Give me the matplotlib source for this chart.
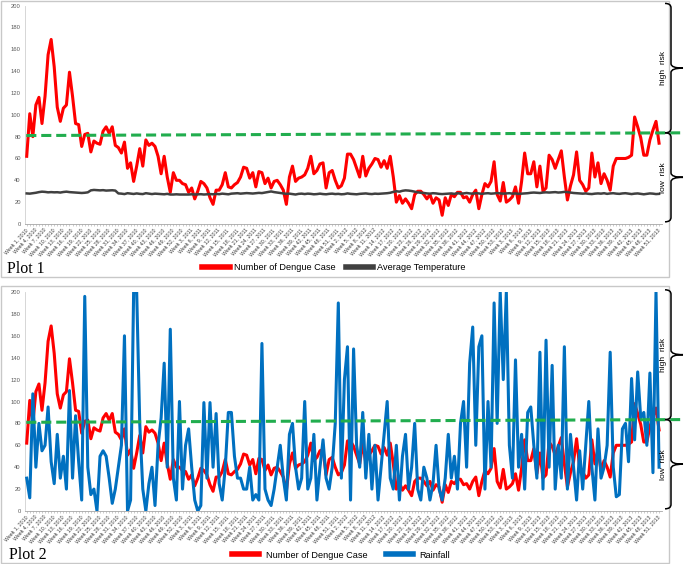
import numpy as np
import matplotlib.pyplot as plt
from matplotlib.path import Path
from matplotlib.patches import PathPatch, Rectangle
import matplotlib.transforms as mtransforms

# weekly data, week 1 2010 .. week 51 2013
dengue_cases = [
    62, 101, 80, 109, 116, 92, 117, 155, 169, 144,
    107, 94, 106, 109, 139, 117, 92, 91, 71, 82,
    83, 66, 76, 74, 73, 85, 89, 83, 89, 72,
    70, 65, 75, 51, 56, 39, 53, 69, 53, 77,
    72, 74, 71, 62, 46, 62, 43, 29, 47, 40,
    40, 37, 36, 29, 33, 23, 30, 39, 37, 33,
    24, 18, 31, 31, 36, 47, 34, 33,
    36, 38, 43, 52, 51, 42, 47, 34, 48, 47,
    37, 42, 33, 39, 40, 36, 31, 18, 43, 53,
    39, 42, 43, 45, 51, 62, 46, 49, 55, 56,
    33, 47, 49, 40, 33, 35, 42, 64, 64, 59,
    51, 43, 62, 44, 51, 55, 60, 59, 52, 58,
    51, 62, 43, 20, 26, 19, 23, 19, 14, 27,
    30, 30, 27, 23, 27, 19, 24, 22, 8,
    24, 17, 27, 25, 29, 29, 24, 25, 20, 27,
    31, 14, 27, 37, 34, 39, 57, 27, 21, 38,
    20, 22, 25, 34, 19, 39, 65, 46, 46, 57,
    34, 53, 30, 33, 63, 59, 51, 59, 67, 43,
    22, 35, 45, 66, 40, 36, 30, 33, 65, 43,
    56, 37, 46, 40, 31, 53, 60, 60, 60, 60,
    61, 63, 98, 89, 79, 63, 63, 77, 86, 94, 74,
]

avg_temperature = [
    28.0, 27.8, 28.2, 28.6, 29.2, 29.6, 29.4, 29.0, 29.2, 29.0,
    29.1, 28.8, 29.3, 29.6, 29.2, 29.0, 28.8, 28.6, 28.4, 28.6, 29.0,
    30.8, 31.2, 31.0, 30.8, 31.0, 30.6, 30.8, 30.9, 30.6,
    28.0, 27.8, 27.4, 28.2, 27.8, 27.5, 28.0, 27.6, 27.4, 28.2,
    27.8, 27.4, 27.8, 27.6, 27.4, 27.2, 27.6, 27.0, 27.0, 27.2,
    27.0, 27.0, 27.1, 27.0, 27.2, 27.0, 27.1, 27.3, 27.0, 27.2,
    27.4, 27.2, 27.6, 27.3, 27.8, 27.5, 27.2, 27.8,
    28.0, 28.2, 27.8, 28.0, 28.3, 28.1, 27.9, 28.2, 28.5, 28.3, 28.8, 29.4,
    29.8, 29.2, 28.8, 28.4, 28.0, 27.6, 27.8, 27.4, 27.0, 27.6,
    27.8, 27.4, 27.8, 27.6, 27.2, 27.4, 27.8, 27.4, 27.2, 27.6,
    27.8, 27.4, 27.6, 27.2, 27.4, 28.0, 27.6, 27.4, 27.2, 27.6,
    27.8, 28.0, 27.6, 27.4, 27.8, 27.6, 27.8, 28.0, 28.2, 28.6,
    29.4, 30.0, 29.6, 30.4, 30.8, 30.6, 30.2, 29.6, 29.0, 28.6,
    28.4, 28.0, 27.8, 28.2, 28.0, 27.6, 27.4,
    27.6, 27.8, 28.0, 27.6, 28.2, 27.8, 28.0, 28.4, 28.0, 27.8,
    28.2, 28.0, 27.6, 28.0, 28.2, 27.8, 28.0, 28.4, 28.0, 27.8,
    28.0, 28.2, 27.8, 28.0, 27.6, 27.8, 28.0, 28.2, 28.6, 28.8,
    28.6, 28.4, 28.8, 29.0, 28.8, 29.0, 29.2, 28.8, 29.0, 29.4,
    29.2, 28.8, 28.4, 28.2, 28.0, 27.8, 28.0, 27.6, 27.4, 27.8,
    28.0, 27.8, 28.2, 27.6, 28.0, 28.2, 27.8, 27.6, 28.0, 28.2,
    27.8, 27.4, 27.8, 28.0, 27.6, 27.2, 27.6, 28.0, 27.8, 27.4, 27.6,
]

rainfall = [
    30, 12, 107, 40, 80, 55, 60, 95, 45, 25,
    70, 30, 50, 20, 110, 30, 87, 45, 10, 196,
    40, 15, 20, 0, 50, 55, 50, 30, 7, 20,
    40, 60, 160, 0, 10, 200, 200, 80, 20, 0,
    25, 40, 5, 60, 85, 135, 40, 166, 30, 10,
    100, 20, 60, 75, 40, 10, 0, 5, 99, 30,
    99, 40, 89, 25, 10, 40, 90, 90, 50, 30,
    30, 20, 20, 40, 10, 15, 10, 153, 20, 10,
    5, 20, 40, 60, 30, 10, 70, 80, 40, 20,
    30, 100, 20, 30, 70, 10, 40, 65, 30, 20,
    40, 80, 190, 30, 120, 150, 10, 148, 60, 40,
    90, 30, 70, 20, 60, 10, 40, 70, 100, 30,
    20, 60, 10, 50, 70, 20, 40, 80, 20, 10,
    40, 30, 10, 25, 60, 20, 10, 30, 70, 30,
    50, 20, 80, 100, 40, 135, 168, 60, 150, 160,
    20, 100, 40, 190, 80, 200, 120, 200, 60, 30,
    138, 40, 70, 20, 90, 95, 60, 30, 145, 20,
    156, 40, 133, 20, 60, 30, 150, 20, 70, 40,
    10, 55, 20, 60, 100, 40, 10, 75, 30, 40,
    60, 145, 40, 13, 15, 75, 80, 45, 121, 65,
    127, 85, 90, 60, 126, 35, 200, 40,
]

# risk threshold (green dashed line), start and end value
threshold = [81, 83.5]

years = [2010, 2011, 2012, 2013]
weeks_in_year = [52, 52, 53, 51]
week_labels = [f'Week {w}, {y}' for y, n in zip(years, weeks_in_year) for w in range(1, n + 1)]

RED = '#ff0000'
GRAY = '#404040'
BLUE = '#0070c0'
GREEN = '#21ad4e'

W, H = 685, 564
fig = plt.figure(figsize=(W / 100, H / 100), dpi=100)
plt.rcParams['font.family'] = ['Liberation Sans', 'DejaVu Sans']


def px_axes(left, top, right, bottom):
    return fig.add_axes([left / W, 1 - bottom / H, (right - left) / W, (bottom - top) / H])


def style_axes(ax):
    x = np.arange(len(week_labels))
    ax.set_xlim(-0.56, len(week_labels) - 0.04)
    ax.set_ylim(0, 200)
    ax.set_yticks(range(0, 201, 20))
    ax.set_xticks(x[::3])
    ax.set_xticks(x, minor=True)
    ax.set_xticklabels(week_labels[::3], rotation=48, ha='right', va='center',
                       rotation_mode='anchor', fontsize=3.8, color='#404040')
    ax.tick_params(axis='y', labelsize=4.2, labelcolor='#595959', length=0, pad=3)
    ax.tick_params(axis='x', which='both', length=1.5, width=0.4, color='#a6a6a6', pad=2)
    for s in ['top', 'right']:
        ax.spines[s].set_visible(False)
    ax.spines['left'].set_color('#d0d0d0')
    ax.spines['bottom'].set_color('#a6a6a6')
    ax.spines['left'].set_linewidth(0.6)
    ax.spines['bottom'].set_linewidth(0.6)


def draw_threshold(ax):
    tr = mtransforms.blended_transform_factory(ax.transAxes, ax.transData)
    ax.plot([0.002, 1.035], threshold, color=GREEN, lw=2.2, dashes=(3.3, 1.6),
            transform=tr, clip_on=False, zorder=5)


def px_data_transform(ax):
    # x in figure pixels, y in data units of ax
    return mtransforms.blended_transform_factory(
        mtransforms.Affine2D().scale(1 / W, 1.0) + fig.transFigure, ax.transData)


def brace(ax, y_top, y_bot, r=4):
    # right curly brace
    tr = px_data_transform(ax)
    xs, xt, xh = 671, 683, 665
    ym = (y_top + y_bot) / 2
    verts = [(xh, y_top), (xs, y_top), (xs, y_top - r),
             (xs, ym + r), (xs, ym), (xt, ym), (xs, ym), (xs, ym - r),
             (xs, y_bot + r), (xs, y_bot), (xh, y_bot)]
    codes = [Path.MOVETO, Path.CURVE3, Path.CURVE3,
             Path.LINETO, Path.CURVE3, Path.CURVE3, Path.CURVE3, Path.CURVE3,
             Path.LINETO, Path.CURVE3, Path.CURVE3]
    patch = PathPatch(Path(verts, codes), fill=False, lw=1.1, edgecolor='black',
                      transform=tr, clip_on=False)
    fig.add_artist(patch)
    return ym


def risk_labels(ax):
    tr = px_data_transform(ax)
    y_hi = brace(ax, 202, threshold[1])
    y_lo = brace(ax, threshold[1], 2)
    fig.text(664, y_hi, 'high  risk', rotation=90, ha='center', va='center',
             fontsize=6, transform=tr)
    fig.text(664, y_lo, 'low  risk', rotation=90, ha='center', va='center',
             fontsize=6, transform=tr)


x = np.arange(len(dengue_cases))

# panel frames
fig.add_artist(Rectangle((1 / W, 1 - 277 / H), 668 / W, 276 / H, fill=False,
                         edgecolor='#c8c8c8', lw=1.0, transform=fig.transFigure))
fig.add_artist(Rectangle((1 / W, 1 - 563 / H), 668 / W, 277 / H, fill=False,
                         edgecolor='#c8c8c8', lw=1.0, transform=fig.transFigure))

# Plot 1
ax1 = px_axes(25, 5.6, 662, 224)
style_axes(ax1)
l1, = ax1.plot(x, dengue_cases, color=RED, lw=2.2, zorder=3)
l2, = ax1.plot(x, avg_temperature, color=GRAY, lw=1.8, zorder=3)
draw_threshold(ax1)
risk_labels(ax1)
fig.legend([l1, l2], ['Number of Dengue Case', 'Average Temperature'],
           loc='center', bbox_to_anchor=(334 / W, 1 - 268 / H), ncol=2, frameon=False,
           fontsize=6.6, handlelength=3.0, handletextpad=0.45, columnspacing=1.1)
fig.text(7 / W, 1 - 273 / H, 'Plot 1', fontsize=11.5, family='Liberation Serif',
         va='baseline')

# Plot 2
ax2 = px_axes(25, 292, 662, 511)
style_axes(ax2)
r1, = ax2.plot(x, dengue_cases, color=RED, lw=2.2, zorder=3)
r2, = ax2.plot(x, rainfall, color=BLUE, lw=2.2, zorder=4)
draw_threshold(ax2)
risk_labels(ax2)
fig.legend([r1, r2], ['Number of Dengue Case', 'Rainfall'],
           loc='center', bbox_to_anchor=(341 / W, 1 - 555 / H), ncol=2, frameon=False,
           fontsize=6.6, handlelength=3.0, handletextpad=0.7, columnspacing=2.0)
fig.text(9 / W, 1 - 559 / H, 'Plot 2', fontsize=11.5, family='Liberation Serif',
         va='baseline')

for leg in fig.legends:
    for h in leg.legend_handles:
        h.set_linewidth(4)

fig.savefig('out.png', dpi=100)
